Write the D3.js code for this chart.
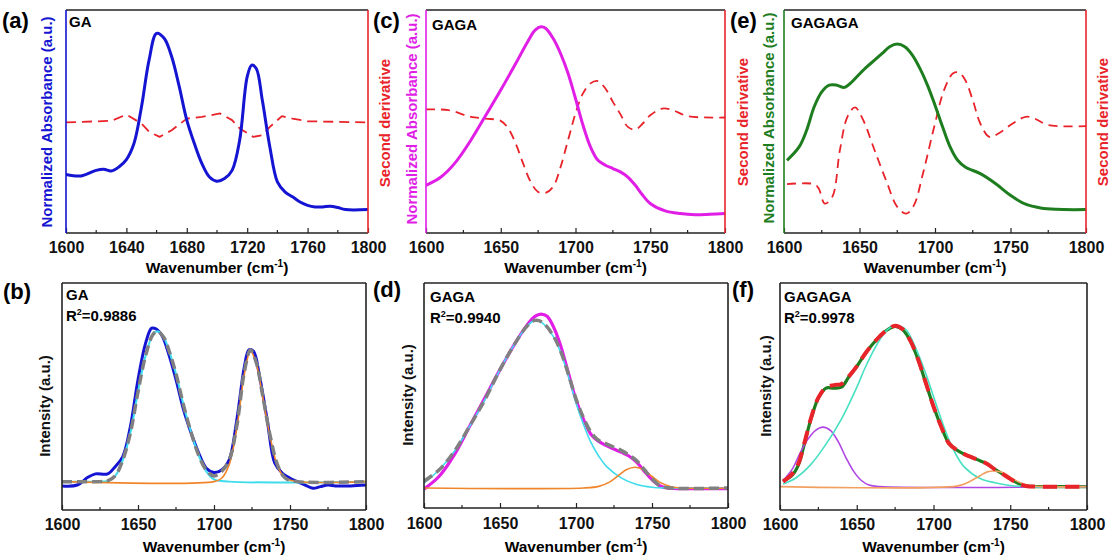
<!DOCTYPE html>
<html>
<head>
<meta charset="utf-8">
<script src="https://cdn.jsdelivr.net/npm/d3@7"></script>
<style>
  body { margin: 0; background: #fff; }
  text { font-family: "Liberation Sans", Arial, sans-serif; font-weight: bold; }
</style>
</head>
<body>
<svg id="fig" width="1112" height="559"></svg>
<script>
// ---- data (y in % of panel height) ----
var gaAbs = [[1600,26.3],[1610,25.6],[1620,28.1],[1625,28.6],[1630,27.8],[1635,29.6],[1640,32.9],[1645,40.1],[1650,56.6],[1655,77.5],[1660,89.5],[1665,87.3],[1670,79.0],[1675,65.6],[1680,50.6],[1685,40.1],[1690,31.1],[1695,25.1],[1700,23.2],[1705,24.4],[1710,28.1],[1715,41.6],[1720,70.1],[1723,75.3],[1726,73.8],[1730,59.6],[1735,38.6],[1740,22.9],[1745,18.4],[1750,16.2],[1755,13.9],[1760,12.4],[1765,11.7],[1770,11.7],[1775,12.0],[1780,11.4],[1785,10.5],[1800,10.5]];
var gaD2 = [[1600,49.6],[1630,50.3],[1640,53.1],[1650,49.1],[1655,45.4],[1662,43.1],[1670,46.1],[1680,51.3],[1690,52.1],[1702,53.6],[1710,50.6],[1715,46.9],[1724,43.1],[1730,43.9],[1735,47.6],[1743,52.4],[1750,51.3],[1760,50.1],[1800,49.6]];

var gagaAbs = [[1600,21.4],[1610,25.1],[1620,31.9],[1630,41.6],[1640,52.8],[1650,64.1],[1660,76.0],[1668,85.8],[1673,91.0],[1677,92.5],[1680,91.8],[1685,87.3],[1690,80.5],[1695,71.6],[1700,60.3],[1705,48.4],[1710,38.6],[1715,32.6],[1720,30.4],[1725,28.9],[1730,27.4],[1735,25.1],[1740,21.4],[1745,16.9],[1750,13.2],[1760,9.9],[1770,8.7],[1780,8.2],[1790,8.4],[1800,8.7]];
var gagaD2 = [[1600,55.4],[1615,55.1],[1630,52.1],[1640,51.3],[1650,50.3],[1655,46.9],[1660,40.1],[1665,31.1],[1670,22.9],[1675,18.4],[1680,18.0],[1685,20.7],[1690,29.6],[1695,41.6],[1700,53.6],[1705,62.6],[1710,67.1],[1715,68.1],[1720,64.8],[1725,58.8],[1730,53.3],[1735,47.6],[1740,46.4],[1745,49.1],[1750,52.8],[1758,55.8],[1765,55.1],[1775,52.4],[1800,51.8]];

var gagagaAbs = [[1602,32.6],[1610,38.6],[1615,46.1],[1620,56.6],[1625,63.3],[1630,66.3],[1635,66.3],[1640,65.3],[1645,67.8],[1650,71.3],[1655,74.6],[1660,77.5],[1665,80.5],[1670,83.5],[1675,84.7],[1680,83.5],[1685,79.8],[1690,73.8],[1695,66.3],[1700,57.3],[1705,47.6],[1710,38.6],[1715,32.6],[1720,29.6],[1730,26.6],[1740,22.2],[1750,16.9],[1760,12.9],[1770,11.2],[1780,10.6],[1800,10.5]];
var gagagaD2 = [[1602,21.9],[1620,21.9],[1623,19.9],[1627,13.2],[1632,16.2],[1637,37.1],[1642,52.1],[1647,56.3],[1652,51.3],[1660,37.1],[1668,22.9],[1675,11.7],[1681,8.7],[1686,12.4],[1692,26.6],[1700,49.1],[1706,64.1],[1712,71.6],[1716,71.9],[1720,68.6],[1725,59.6],[1730,49.1],[1736,43.1],[1742,44.6],[1750,48.4],[1760,52.1],[1766,51.3],[1775,48.4],[1800,47.9]];

// fitted spectra
var gaFitRaw = [[1600,10.6],[1610,11.0],[1617,14.4],[1622,15.9],[1630,15.9],[1635,19.1],[1640,23.5],[1645,36.8],[1650,57.4],[1655,73.5],[1659,80.1],[1662,79.7],[1666,76.5],[1670,69.1],[1675,57.4],[1680,44.1],[1685,33.8],[1690,25.0],[1695,18.4],[1700,16.5],[1705,17.6],[1710,22.1],[1715,39.7],[1720,63.2],[1723,70.6],[1726,69.9],[1730,58.8],[1735,39.7],[1740,20.6],[1745,16.2],[1750,14.0],[1755,12.5],[1760,11.0],[1765,9.6],[1770,10.3],[1775,11.0],[1780,10.6],[1790,10.6],[1800,11.0]];
var gaPeak1 = [[1600,12.5],[1625,12.5],[1630,12.8],[1635,15],[1640,22],[1645,34],[1650,52],[1655,68],[1660,77.5],[1663,78.7],[1667,76],[1670,71],[1675,60],[1680,46],[1685,34],[1690,24],[1695,17],[1700,13.5],[1710,12.5],[1800,12.5]];
var gaPeak2 = [[1600,12.5],[1700,12.5],[1705,14],[1710,20],[1715,36],[1720,60],[1724,70],[1728,64],[1732,50],[1737,32],[1742,19],[1747,14],[1755,12.5],[1800,12.5]];
var gaSum = [[1600,12.5],[1625,12.5],[1630,12.8],[1635,15],[1640,22],[1645,34],[1650,52],[1655,68],[1660,77.5],[1663,78.7],[1667,76],[1670,71],[1675,60],[1680,46],[1685,34],[1690,24],[1695,17.5],[1700,15],[1705,17],[1710,22],[1715,37],[1720,61],[1724,70.5],[1728,64.5],[1732,50.5],[1737,32.5],[1742,19.5],[1747,14],[1755,12.5],[1800,12.5]];

var gagaFitRaw = [[1600,8.4],[1610,14.1],[1620,23.7],[1630,36.3],[1640,48.9],[1650,61.5],[1660,73.3],[1668,81.5],[1673,85.2],[1677,86.2],[1681,85.2],[1686,79.3],[1690,71.9],[1695,60.0],[1700,48.1],[1705,39.3],[1710,32.6],[1715,29.6],[1720,27.7],[1725,26.2],[1730,24.7],[1735,23.0],[1740,20.3],[1745,16.3],[1750,12.6],[1755,9.9],[1760,8.9],[1770,8.6],[1800,8.6]];
var gagaPeak1 = [[1600,11.1],[1610,17.0],[1620,25.2],[1630,36.3],[1640,48.1],[1650,61.5],[1660,73.3],[1668,81.0],[1673,83.4],[1678,82.2],[1685,76.3],[1690,68.9],[1695,58.5],[1700,46.7],[1705,37.0],[1710,28.9],[1715,23.0],[1720,18.5],[1730,13.3],[1740,10.4],[1750,9.2],[1760,8.9],[1800,8.9]];
var gagaPeak2 = [[1600,8.9],[1705,8.9],[1715,9.6],[1722,11.5],[1728,14.5],[1733,17],[1739,18.1],[1745,16.8],[1750,14],[1755,11.5],[1762,9.6],[1770,8.9],[1800,8.9]];
var gagaSum = [[1600,11.9],[1610,17.0],[1620,25.2],[1630,36.3],[1640,48.1],[1650,61.5],[1660,73.3],[1668,81.0],[1673,83.4],[1678,82.5],[1685,76.6],[1690,69.5],[1695,59.5],[1700,48.5],[1705,40],[1710,33.5],[1715,30],[1720,28.5],[1725,27],[1730,25.5],[1735,23.5],[1740,21],[1745,17],[1750,13],[1755,10],[1760,9],[1800,8.9]];

var gagagaFitRaw = [[1602,12.9],[1608,15.4],[1612,19.9],[1616,29.4],[1620,39.7],[1625,49.3],[1630,53.7],[1635,53.7],[1640,54.1],[1645,58.8],[1650,63.2],[1655,68.4],[1660,72.8],[1665,76.5],[1670,79.4],[1675,80.9],[1680,79.4],[1685,74.3],[1690,66.2],[1695,55.9],[1700,45.6],[1705,36.8],[1710,29.4],[1715,26.5],[1720,24.6],[1725,23.2],[1730,21.8],[1735,20.3],[1740,17.9],[1745,15.9],[1750,13.7],[1755,11.8],[1760,10.6],[1770,10.3],[1800,10.3]];
var gagagaPeak1 = [[1602,13],[1608,18],[1613,25],[1618,31],[1623,35],[1628,36.5],[1633,35],[1638,30],[1643,23],[1648,17],[1653,13],[1658,11],[1665,10.3],[1800,10.3]];
var gagagaPeak2 = [[1602,11.5],[1610,14],[1620,20],[1630,29],[1640,40],[1650,54],[1655,62],[1660,69],[1665,75],[1670,79.5],[1676,81.2],[1682,79.5],[1688,72],[1695,60],[1700,50],[1705,40],[1710,31],[1715,24],[1720,19],[1730,14],[1740,12],[1750,10.8],[1760,10.3],[1800,10.3]];
var gagagaPeak3 = [[1600,10.3],[1715,10.5],[1722,12],[1730,15],[1735,16.8],[1740,17.2],[1745,16.5],[1750,14.5],[1755,12.5],[1762,10.8],[1770,10.3],[1800,10.3]];
var gagagaSum = [[1602,12.5],[1608,16],[1612,20.5],[1616,29.8],[1620,40],[1625,49.5],[1630,54],[1635,55],[1640,55.5],[1645,59],[1650,63.3],[1655,68.4],[1660,72.8],[1665,76.5],[1670,79.5],[1675,81.2],[1680,79.6],[1685,74.5],[1690,66.3],[1695,56],[1700,45.6],[1705,36.8],[1710,29.4],[1715,26.5],[1720,24.6],[1725,23.2],[1730,21.8],[1735,20.3],[1740,17.9],[1745,15.9],[1750,13.7],[1755,11.8],[1760,10.6],[1770,10.3],[1800,10.3]];

var ticks40 = [1600, 1640, 1680, 1720, 1760, 1800];
var minor40 = [1620, 1660, 1700, 1740, 1780];
var ticks50 = [1600, 1650, 1700, 1750, 1800];
var minor50 = [1625, 1675, 1725, 1775];

var blue = "#1414d2", magenta = "#e01ee6", green = "#1e7d1e", red = "#e8232a",
    cyan = "#3fdcec", teal = "#48e0c2", purple = "#b046e6", orange = "#f0862a", gray = "#808080";

var svg = d3.select("#fig");

function xTitle(g, x, y) {
  var t = g.append("text").attr("x", x).attr("y", y).attr("text-anchor", "middle")
    .style("font-size", "15.5px").text("Wavenumber (cm");
  t.append("tspan").attr("dy", -6).style("font-size", "10px").text("-1");
  t.append("tspan").attr("dy", 6).text(")");
}

function yTitle(x, cy, txt, color) {
  svg.append("text").attr("transform", "translate(" + x + "," + cy + ") rotate(-90)")
    .attr("text-anchor", "middle").attr("dy", "0.35em")
    .style("font-size", "15px").style("fill", color).text(txt);
}

function panel(p) {
  var x = d3.scaleLinear().domain([1600, 1800]).range([p.left, p.right]);
  var y = d3.scaleLinear().domain([0, 100]).range([p.bottom, p.top]);
  var g = svg.append("g");
  var clipId = "clip" + p.id;
  svg.append("clipPath").attr("id", clipId).append("rect")
    .attr("x", p.left).attr("y", p.top).attr("width", p.right - p.left).attr("height", p.bottom - p.top);

  var line = d3.line().x(function(d) { return x(d[0]); }).y(function(d) { return y(d[1]); });
  var lines = g.append("g").attr("clip-path", "url(#" + clipId + ")");
  p.series.forEach(function(s) {
    lines.append("path").datum(s.data)
      .attr("fill", "none").attr("stroke", s.color).attr("stroke-width", s.width)
      .attr("stroke-dasharray", s.dash || null)
      .attr("stroke-linejoin", "round")
      .attr("d", line.curve(s.linear ? d3.curveLinear : d3.curveCatmullRom.alpha(0.5))(s.data));
  });

  // bottom axis, ticks inward
  var ax = g.append("g").attr("transform", "translate(0," + p.bottom + ")");
  ax.call(d3.axisBottom(x).tickValues(p.ticks).tickFormat(d3.format("d"))
    .tickSizeInner(-5).tickSizeOuter(0).tickPadding(p.pad));
  ax.selectAll("text").style("font-size", "16px").style("fill", "#111");
  ax.selectAll("line").attr("stroke", "#222").attr("stroke-width", 1.2);
  ax.select(".domain").remove();
  ax.selectAll(".minor").data(p.minor).enter().append("line")
    .attr("x1", function(d) { return x(d); }).attr("x2", function(d) { return x(d); })
    .attr("y1", 0).attr("y2", -3).attr("stroke", "#222").attr("stroke-width", 1.2);

  // frame
  var fr = g.append("g").attr("stroke-width", 1.6);
  fr.append("line").attr("x1", p.left).attr("x2", p.right).attr("y1", p.bottom).attr("y2", p.bottom).attr("stroke", "#222");
  fr.append("line").attr("x1", p.left).attr("x2", p.right).attr("y1", p.top).attr("y2", p.top).attr("stroke", "#222");
  fr.append("line").attr("x1", p.left).attr("x2", p.left).attr("y1", p.top).attr("y2", p.bottom).attr("stroke", p.leftColor);
  fr.append("line").attr("x1", p.right).attr("x2", p.right).attr("y1", p.top).attr("y2", p.bottom).attr("stroke", p.rightColor);

  xTitle(g, (p.left + p.right) / 2, p.bottom + p.titleOff);

  svg.append("text").attr("x", p.labX).attr("y", p.labY).style("font-size", "22px").text(p.label);
  svg.append("text").attr("x", p.nameX).attr("y", p.nameY).style("font-size", "15px").text(p.name);
  if (p.r2) {
    var r = svg.append("text").attr("x", p.nameX).attr("y", p.nameY + 21).style("font-size", "15px").text("R");
    r.append("tspan").attr("dy", -6).style("font-size", "9px").text("2");
    r.append("tspan").attr("dy", 6).text("=" + p.r2);
  }
}

// ---- top row: absorbance + second derivative ----
panel({ id: "a", left: 66, right: 368, top: 10, bottom: 233, ticks: ticks40, minor: minor40, pad: 9, titleOff: 40,
  leftColor: blue, rightColor: red, label: "(a)", labX: 2, labY: 28, name: "GA", nameX: 69, nameY: 27,
  series: [
    { data: gaD2, color: red, width: 1.8, dash: "10,6", linear: true },
    { data: gaAbs, color: blue, width: 3 }
  ] });
panel({ id: "c", left: 426, right: 725, top: 10, bottom: 233, ticks: ticks50, minor: minor50, pad: 9, titleOff: 40,
  leftColor: magenta, rightColor: red, label: "(c)", labX: 373, labY: 28, name: "GAGA", nameX: 432, nameY: 30,
  series: [
    { data: gagaD2, color: red, width: 1.8, dash: "9,6" },
    { data: gagaAbs, color: magenta, width: 3 }
  ] });
panel({ id: "e", left: 784, right: 1086, top: 10, bottom: 233, ticks: ticks50, minor: minor50, pad: 9, titleOff: 40,
  leftColor: green, rightColor: red, label: "(e)", labX: 730, labY: 28, name: "GAGAGA", nameX: 791, nameY: 28,
  series: [
    { data: gagagaD2, color: red, width: 1.8, dash: "9,6" },
    { data: gagagaAbs, color: green, width: 3 }
  ] });

yTitle(47, 122, "Normalized Absorbance (a.u.)", blue);
yTitle(385, 123, "Second derivative", red);
yTitle(412, 119, "Normalized Absorbance (a.u.)", magenta);
yTitle(743, 122, "Second derivative", red);
yTitle(769, 118, "Normalized Absorbance (a.u.)", green);
yTitle(1103, 122, "Second derivative", red);

// ---- bottom row: peak fitting ----
panel({ id: "b", left: 62, right: 366, top: 283, bottom: 510, ticks: ticks50, minor: minor50, pad: 9, titleOff: 42,
  leftColor: "#222", rightColor: "#222", label: "(b)", labX: 3, labY: 299, name: "GA", nameX: 66, nameY: 300, r2: "0.9886",
  series: [
    { data: gaFitRaw, color: blue, width: 3 },
    { data: gaPeak1, color: cyan, width: 2 },
    { data: gaPeak2, color: orange, width: 1.6 },
    { data: gaSum, color: gray, width: 3.5, dash: "10,5" }
  ] });
panel({ id: "d", left: 424, right: 728, top: 283, bottom: 508, ticks: ticks50, minor: minor50, pad: 10, titleOff: 44,
  leftColor: "#222", rightColor: "#222", label: "(d)", labX: 373, labY: 297, name: "GAGA", nameX: 430, nameY: 302, r2: "0.9940",
  series: [
    { data: gagaFitRaw, color: magenta, width: 3.2 },
    { data: gagaPeak1, color: cyan, width: 1.6 },
    { data: gagaPeak2, color: orange, width: 1.6 },
    { data: gagaSum, color: gray, width: 3.5, dash: "10,5" }
  ] });
panel({ id: "f", left: 780, right: 1087, top: 283, bottom: 510, ticks: ticks50, minor: minor50, pad: 9, titleOff: 42,
  leftColor: "#222", rightColor: "#222", label: "(f)", labX: 732, labY: 297, name: "GAGAGA", nameX: 784, nameY: 302, r2: "0.9978",
  series: [
    { data: gagagaFitRaw, color: green, width: 3.2 },
    { data: gagagaPeak1, color: purple, width: 1.6 },
    { data: gagagaPeak2, color: teal, width: 1.6 },
    { data: gagagaPeak3, color: "#f2a060", width: 1.6 },
    { data: gagagaSum, color: red, width: 4, dash: "14,8" }
  ] });

yTitle(45, 406, "Intensity (a.u.)", "#111");
yTitle(408, 395, "Intensity (a.u.)", "#111");
yTitle(766, 386, "Intensity (a.u.)", "#111");
</script>
</body>
</html>
